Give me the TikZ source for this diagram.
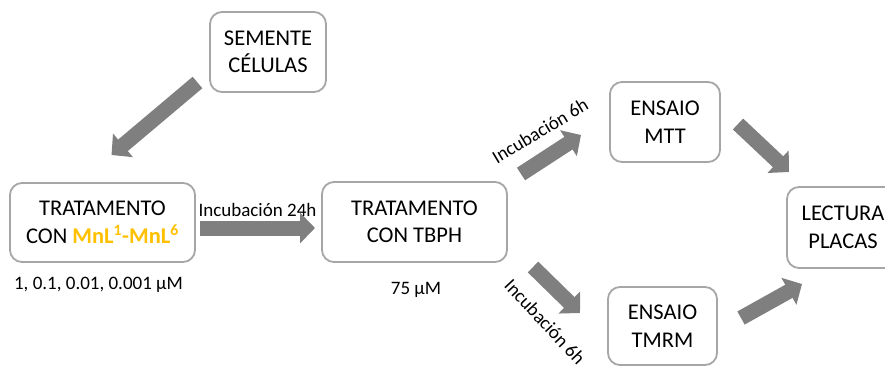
\documentclass[tikz,border=0pt]{standalone}
\usepackage{fontspec}
\setmainfont{Carlito}
\usetikzlibrary{arrows.meta}
\definecolor{boxline}{HTML}{A6A6A6}
\definecolor{arrowgray}{HTML}{7F7F7F}
\definecolor{gold}{HTML}{FFC000}
\begin{document}
\begin{tikzpicture}[x=1pt,y=-1pt,
  box/.style={draw=boxline, line width=1.8pt, rounded corners=12pt, align=center,
    font=\fontsize{22.5}{27.5}\selectfont, inner sep=0pt},
  blockarrow/.style={draw=arrowgray, line width=15pt,
    -{Triangle[width=30pt,length=15pt]}},
  small/.style={font=\fontsize{19}{23}\selectfont, inner sep=0pt}]
\useasboundingbox (0,0) rectangle (885,365);
\node[box, minimum width=116pt, minimum height=80pt] (sem) at (268,52) {SEMENTE\\CÉLULAS};
\node[box, minimum width=185pt, minimum height=79pt] (tr1) at (102.5,222.5) {TRATAMENTO\\CON \textcolor{gold}{\textbf{MnL\textsuperscript{1}-MnL\textsuperscript{6}}}};
\node[box, minimum width=185pt, minimum height=80pt] (tr2) at (414.5,222) {TRATAMENTO\\CON TBPH};
\node[box, minimum width=110pt, minimum height=80pt] (mtt) at (665,122) {ENSAIO\\MTT};
\node[box, minimum width=109pt, minimum height=78pt] (tmrm) at (662.5,326) {ENSAIO\\TMRM};
\node[box, minimum width=112pt, minimum height=81pt] (lec) at (843,227.5) {LECTURA\\PLACAS};

\coordinate (a1s) at (197.5,82.5); \coordinate (a1e) at (111.5,155);
\coordinate (a2s) at (200,228); \coordinate (a2e) at (315,228);
\coordinate (a3s) at (521,174); \coordinate (a3e) at (581,135);
\coordinate (a4s) at (533,267); \coordinate (a4e) at (580,313);
\coordinate (a5s) at (738,124); \coordinate (a5e) at (789,172);
\coordinate (a6s) at (741,318); \coordinate (a6e) at (802,284);

\draw[blockarrow] (a1s) -- (a1e);
\draw[blockarrow] (a2s) -- (a2e);
\draw[blockarrow] (a3s) -- (a3e);
\draw[blockarrow] (a4s) -- (a4e);
\draw[blockarrow] (a5s) -- (a5e);
\draw[blockarrow] (a6s) -- (a6e);

\node[small] (l24) at (257.5,210) {Incubación 24h};
\node[small, rotate=31] (l6a) at (540,131) {Incubación 6h};
\node[small, rotate=-47] (l6b) at (545,322) {Incubación 6h};
\node[small] (c1) at (98.5,285) {1, 0.1, 0.01, 0.001 µM};
\node[small] (c2) at (416,290) {75 µM};
\end{tikzpicture}
\end{document}
